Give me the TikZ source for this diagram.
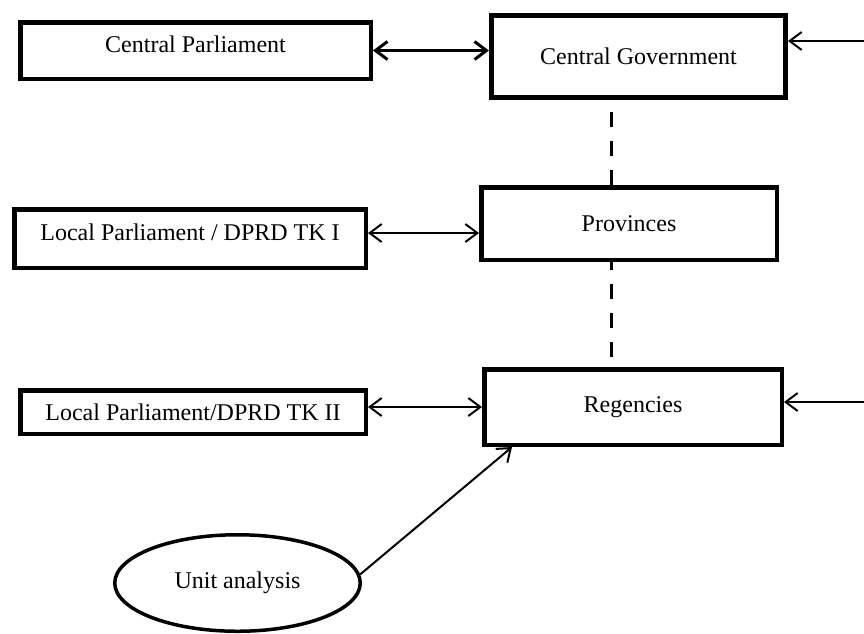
\documentclass[tikz,border=0pt]{standalone}
\usepackage{fontspec}
\setmainfont{Liberation Serif}
\usetikzlibrary{shapes.geometric,arrows.meta}
\tikzset{
  box/.style={
    rectangle,
    draw=black,
    line width=4.5pt,
    inner sep=0pt,
    font=\fontsize{24}{28}\selectfont
  },
  box-heavy/.style={box, line width=5pt},
  oval/.style={
    ellipse,
    draw=black,
    line width=3.5pt,
    inner sep=0pt,
    font=\fontsize{24}{28}\selectfont
  },
  raised/.style={text depth=12pt},
  link/.style={<->, line width=2pt},
  link-heavy/.style={link, line width=3pt},
  feed/.style={->, line width=2pt},
  tie/.style={line width=3pt, dash pattern=on 15pt off 14pt}
}

\begin{document}
\begin{tikzpicture}[x=1pt, y=-1pt, >={Straight Barb[length=12pt,width=18pt]}]
  \useasboundingbox (0,0) rectangle (864,633);

  % Left column: parliaments
  \node[box, raised, minimum width=350.5pt, minimum height=56.5pt] (cparl) at (195.5,50.5) {Central Parliament};
  \node[box, raised, minimum width=351.5pt, minimum height=58.5pt] (ltk1) at (190,238.5) {Local Parliament / DPRD TK I};
  \node[box, minimum width=345.5pt, minimum height=43.5pt] (ltk2) at (193,412) {Local Parliament/DPRD TK II};

  % Right column: government levels
  \node[box-heavy, minimum width=294pt, minimum height=82pt] (cgov) at (638.5,56.5) {Central Government};
  \node[box, minimum width=295.5pt, minimum height=72.5pt] (prov) at (629,223.5) {Provinces};
  \node[box, minimum width=297.5pt, minimum height=75.5pt] (reg) at (633,407) {Regencies};

  % Unit of analysis
  \node[oval, minimum width=245.5pt, minimum height=96.5pt] (unit) at (237.5,583) {Unit analysis};

  % Free ends and helpers
  \coordinate (govin) at (864,41);
  \coordinate (regin) at (864,402);
  \coordinate (spine) at (611,0);
  \coordinate (target) at ([xshift=30pt]reg.south west);

  % Parliament <-> government
  \draw[link-heavy] (cparl.east) -- (cparl.east -| cgov.west);
  \draw[link] ([yshift=5.5pt]ltk1.east) -- ([yshift=5.5pt]ltk1.east -| prov.west);
  \draw[link] (reg.west -| ltk2.east) -- (reg.west);

  % Incoming from the right margin
  \draw[feed] (govin) -- (govin -| cgov.east);
  \draw[feed] (regin) -- (regin -| reg.east);

  % Hierarchy (dashed)
  \draw[tie] (prov.north -| spine) -- (cgov.south -| spine);
  \draw[tie, dash phase=19pt] (reg.north -| spine) -- (prov.south -| spine);

  % Unit analysis -> Regencies
  \draw[feed] (unit.4) -- (target);

\end{tikzpicture}
\end{document}
